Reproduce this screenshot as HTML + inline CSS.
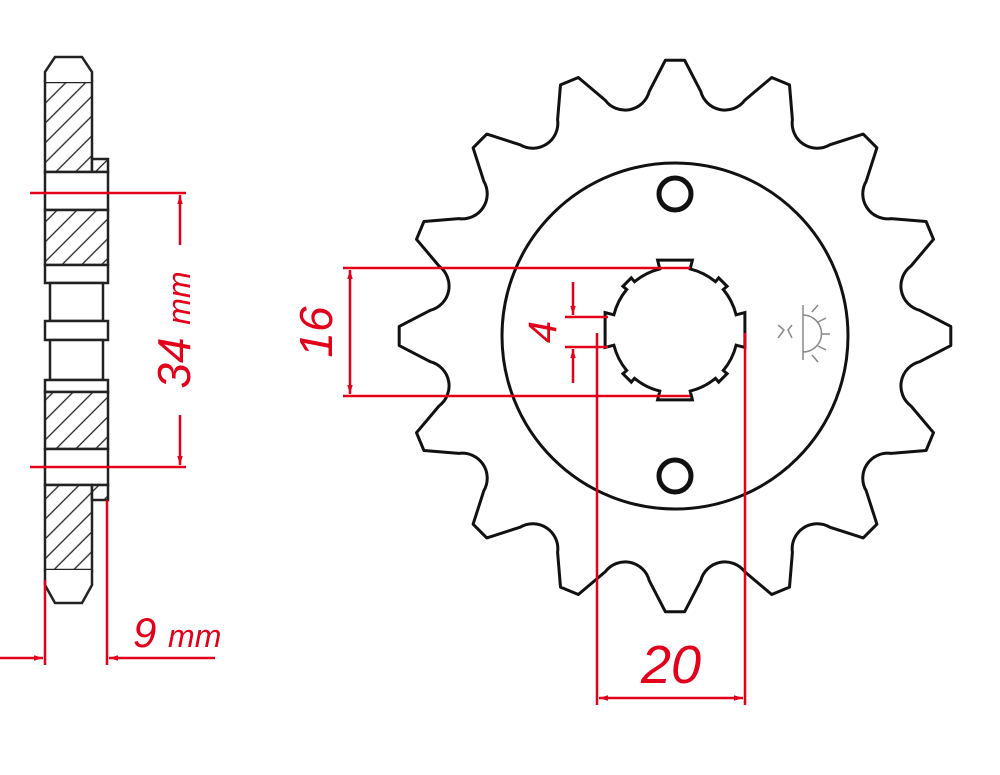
<!DOCTYPE html>
<html><head><meta charset="utf-8"><style>
html,body{margin:0;padding:0;background:#fff;}
svg{display:block;}
text{font-family:"Liberation Sans",sans-serif;fill:#e2001a;font-style:italic;}
</style></head><body>
<svg id="s" width="1000" height="775" viewBox="0 0 1000 775" xmlns="http://www.w3.org/2000/svg">
<defs>
<pattern id="h" patternUnits="userSpaceOnUse" width="14" height="14" patternTransform="rotate(-45)">
<rect width="14" height="14" fill="#fff"/><line x1="0" y1="7" x2="14" y2="7" stroke="#222" stroke-width="1.3"/>
</pattern>
<marker id="a" viewBox="0 0 10 10" refX="10" refY="5" markerWidth="9" markerHeight="9" orient="auto-start-reverse" markerUnits="userSpaceOnUse">
<path d="M0,2 L10,5 L0,8 z" fill="#e2001a"/></marker>
</defs>

<!-- side view -->
<g stroke="#222" stroke-width="2.5">
<rect x="45" y="82" width="47" height="90" fill="url(#h)"/>
<rect x="92" y="159" width="16" height="13" fill="url(#h)"/>
<rect x="45" y="172" width="63" height="38" fill="#fff"/>
<rect x="45" y="210" width="63" height="55" fill="url(#h)"/>
<rect x="45" y="265" width="63" height="18" fill="#fff"/>
<rect x="50" y="283" width="53" height="38" fill="#fff"/>
<rect x="45" y="321" width="63" height="19" fill="#fff"/>
<rect x="50" y="340" width="53" height="40" fill="#fff"/>
<rect x="45" y="380" width="63" height="12" fill="#fff"/>
<rect x="45" y="392" width="63" height="57" fill="url(#h)"/>
<rect x="45" y="449" width="63" height="36" fill="#fff"/>
<rect x="45" y="485" width="47" height="85" fill="url(#h)"/>
<rect x="92" y="485" width="16" height="15" fill="url(#h)"/>
<path d="M45,82 L45,72 L55,57 L82,57 L92,72 L92,82" fill="#fff"/>
<path d="M45,570 L45,585 L55,603 L82,603 L92,585 L92,570" fill="#fff"/>
</g>

<!-- side dims -->
<g stroke="#e2001a" stroke-width="2.5" fill="none">
<line x1="30" y1="193" x2="186" y2="193"/>
<line x1="30" y1="467" x2="186" y2="467"/>
<line x1="180" y1="245" x2="180" y2="195" marker-end="url(#a)"/>
<line x1="180" y1="415" x2="180" y2="465" marker-end="url(#a)"/>
<line x1="45" y1="580" x2="45" y2="665"/>
<line x1="107" y1="500" x2="107" y2="665"/>
<line x1="0" y1="658" x2="43" y2="658" marker-end="url(#a)"/>
<line x1="215" y1="658" x2="109" y2="658" marker-end="url(#a)"/>
</g>
<text transform="translate(190,330) rotate(-90)" text-anchor="middle" font-size="46" font-style="normal">34 <tspan font-size="32" font-style="italic">mm</tspan></text>
<text x="133" y="647" font-size="42" font-style="normal">9 <tspan font-size="32" font-style="italic">mm</tspan></text>

<!-- sprocket -->
<path id="teeth" fill="#fff" stroke="#111" stroke-width="3" stroke-linejoin="round" d=""/>
<circle cx="675" cy="336" r="173" fill="none" stroke="#111" stroke-width="3"/>
<circle cx="675" cy="194" r="16" fill="none" stroke="#111" stroke-width="5"/>
<circle cx="675" cy="476" r="16" fill="none" stroke="#111" stroke-width="5"/>
<path id="bore" fill="#fff" stroke="#111" stroke-width="3" d=""/>
<g stroke="#888" stroke-width="1.5" fill="none">
<line x1="803" y1="305" x2="803" y2="360"/>
<path d="M803,315 A18,18 0 0 1 803,352"/>
<path d="M812,312 L818,305 M818,322 L826,318 M821,334 L830,334 M818,346 L826,350 M812,355 L818,362"/>
<path d="M778,325 L784,330 L778,338 M792,325 L788,330 L792,338"/>
</g>

<!-- red dims on sprocket -->
<g stroke="#e2001a" stroke-width="2.5" fill="none">
<line x1="343" y1="268" x2="690" y2="268"/>
<line x1="343" y1="396" x2="690" y2="396"/>
<line x1="350" y1="270" x2="350" y2="394" marker-start="url(#a)" marker-end="url(#a)"/>
<line x1="565" y1="317" x2="608" y2="317"/>
<line x1="565" y1="347" x2="608" y2="347"/>
<line x1="573" y1="282" x2="573" y2="315" marker-end="url(#a)"/>
<line x1="573" y1="383" x2="573" y2="349" marker-end="url(#a)"/>
<line x1="597" y1="333" x2="597" y2="705"/>
<line x1="745" y1="333" x2="745" y2="705"/>
<line x1="599" y1="698" x2="743" y2="698" marker-start="url(#a)" marker-end="url(#a)"/>
</g>
<text transform="translate(332,332) rotate(-90)" text-anchor="middle" font-size="46" font-style="normal">16</text>
<text transform="translate(556,332) rotate(-90)" text-anchor="middle" font-size="40" font-style="normal">4</text>
<text x="671" y="683" text-anchor="middle" font-size="54">20</text>
</svg>
<script>
(function(){
var cx=675,cy=336,d="";
function P(a,r){var t=(a-90)*Math.PI/180;return (cx+r*Math.cos(t)).toFixed(1)+","+(cy+r*Math.sin(t)).toFixed(1);}
for(var i=0;i<16;i++){
 var t=i*22.5;
 d+=(i==0?"M":"L")+P(t-2,276)+" L"+P(t+2,276)+" L"+P(t+6,246)+" A25,25 0 0 0 "+P(t+16.5,246)+" ";
}
d+="Z";
document.getElementById("teeth").setAttribute("d",d);
var b="",cy2=330;
function Q(a,r){var t=(a-90)*Math.PI/180;return (cx+r*Math.cos(t)).toFixed(1)+","+(cy2+r*Math.sin(t)).toFixed(1);}
var first=true;
for(var k=0;k<4;k++){
 var c=k*90;
 var segs=[[c-14,72],[c+14,72],[c+14,63],[c+40,63],[c+40,68],[c+50,68],[c+50,63],[c+76,63]];
 for(var j=0;j<segs.length;j++){
   if(j==3||j==7){b+=" A63,63 0 0 1 "+Q(segs[j][0],segs[j][1]);}
   else{b+=(first?"M":" L")+Q(segs[j][0],segs[j][1]);first=false;}
 }
}
b+=" Z";
document.getElementById("bore").setAttribute("d",b);
})();
</script>
</body></html>
